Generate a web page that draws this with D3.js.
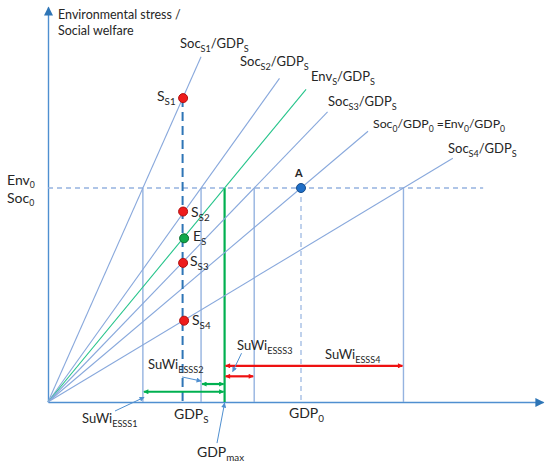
<!DOCTYPE html>
<html><head><meta charset="utf-8">
<script src="https://cdn.jsdelivr.net/npm/d3@7"></script>
<style>
body{margin:0;background:#fff}
text{font-family:Lato,"Open Sans",sans-serif;fill:#262626}
</style>
</head><body>
<svg id="c" width="550" height="466"></svg>
<script>
// ---------- data (abstract units: GDP0 = 10, Env0 = Soc0 = 10) ----------
const lineKeys   = ["SocS1","SocS2","EnvS","SocS3","Soc0","SocS4"];
const gdpAtEnv0  = [3.75, 6.05, 6.98, 8.15, 10, 14.05];   // GDP where each ratio line meets Env0/Soc0
const lineEndGdp = [6.05, 9.15, 10.2, 11.05, 12.65, 16.0];
const env0 = 10, gdp0 = 10, gdpS = 5.32, gdpMax = 6.98;
const pointKeys   = ["SS1","SS2","ES","SS3","SS4"];
const pointValues = [14.2, 8.9, 7.65, 6.5, 3.8];
const suwiKeys  = ["ESSS1","ESSS2","ESSS3","ESSS4"];
const suwiFrom  = [3.75, 6.05, 6.98, 6.98];
const suwiTo    = [6.98, 6.98, 8.15, 14.05];
const suwiLevel = [0.48, 0.84, 1.2, 1.69];

// ---------- scales ----------
const x = d3.scaleLinear().domain([0, 10]).range([48, 301]);
const y = d3.scaleLinear().domain([0, 10]).range([402, 188]);
const svg = d3.select("#c");

const C = {axis:"#4f8fd0", line:"#88a8dc", vline:"#95b3e0", dash:"#2e75b6",
           green:"#00b050", greenLine:"#25c48a", red:"#ee1111", call:"#4f8fd0"};

// ---------- markers ----------
const defs = svg.append("defs");
function marker(id, color, w, h){
  defs.append("marker").attr("id", id).attr("viewBox","0 0 10 10")
    .attr("refX", 9).attr("refY", 5).attr("markerUnits","userSpaceOnUse")
    .attr("markerWidth", w).attr("markerHeight", h).attr("orient","auto-start-reverse")
    .append("path").attr("d","M0,0L10,5L0,10Z").attr("fill", color);
}
marker("axArrow", "#2e75b6", 11, 9);
marker("gArrow", C.green, 6, 5);
marker("rArrow", C.red, 6, 5);
marker("cArrow", C.call, 6, 5);

// ---------- axes ----------
const xAxisScale = x.copy().domain([0, x.invert(543)]).range([48, 543]);
const yAxisScale = y.copy().domain([0, y.invert(7)]).range([402, 7]);
const gx = svg.append("g").attr("transform", `translate(0,${y(0)})`)
  .call(d3.axisBottom(xAxisScale).tickValues([]).tickSizeOuter(0));
const gy = svg.append("g").attr("transform", `translate(${x(0)},0)`)
  .call(d3.axisLeft(yAxisScale).tickValues([]).tickSizeOuter(0));
[gx, gy].forEach(g => g.select(".domain").attr("stroke", C.axis).attr("stroke-width", 1.4)
  .attr("marker-end","url(#axArrow)"));

// ---------- Env0 dashed level ----------
svg.append("line").attr("x1", x(0)).attr("x2", x(17.2)).attr("y1", y(env0)).attr("y2", y(env0))
  .attr("stroke", C.vline).attr("stroke-width", 1.3).attr("stroke-dasharray","5,4");

// ---------- vertical lines at Env0 crossings ----------
lineKeys.forEach((k, i) => {
  if (k === "Soc0") return;
  svg.append("line").attr("x1", x(gdpAtEnv0[i])).attr("x2", x(gdpAtEnv0[i]))
    .attr("y1", y(env0)).attr("y2", y(0))
    .attr("stroke", k === "EnvS" ? C.green : C.vline)
    .attr("stroke-width", k === "EnvS" ? 2.2 : 1.4);
});
// GDP0 dashed
svg.append("line").attr("x1", x(gdp0)).attr("x2", x(gdp0)).attr("y1", y(env0)).attr("y2", y(0))
  .attr("stroke", C.vline).attr("stroke-width", 1.2).attr("stroke-dasharray","5,4");

// ---------- ratio lines from origin ----------
const lineGen = d3.line().x(d => x(d[0])).y(d => y(d[1]));
lineKeys.forEach((k, i) => {
  const slope = env0 / gdpAtEnv0[i];
  svg.append("path").datum([[0, 0], [lineEndGdp[i], lineEndGdp[i] * slope]])
    .attr("d", lineGen).attr("fill","none")
    .attr("stroke", k === "EnvS" ? C.greenLine : C.line).attr("stroke-width", 1.1);
});

// ---------- GDP_S dashed ----------
svg.append("line").attr("x1", x(gdpS)).attr("x2", x(gdpS)).attr("y1", y(pointValues[0])).attr("y2", y(0))
  .attr("stroke", C.dash).attr("stroke-width", 2).attr("stroke-dasharray","9,5");

// ---------- SuWi double arrows ----------
suwiKeys.forEach((k, i) => {
  const col = i < 2 ? "g" : "r";
  svg.append("line").attr("x1", x(suwiFrom[i]) + 1).attr("x2", x(suwiTo[i]) - 1)
    .attr("y1", y(suwiLevel[i])).attr("y2", y(suwiLevel[i]))
    .attr("stroke", i < 2 ? C.green : C.red).attr("stroke-width", 2.2)
    .attr("marker-start", `url(#${col}Arrow)`).attr("marker-end", `url(#${col}Arrow)`);
});

// ---------- callout lines ----------
const callouts = [[[2.65,-0.42],[3.8,0.22]], [[5.3,1.17],[6.05,0.98]],
                  [[7.65,2.28],[7.3,1.42]], [[6.68,-1.92],[6.98,-0.05]]];
callouts.forEach(c => {
  svg.append("path").datum(c).attr("d", lineGen).attr("fill","none")
    .attr("stroke", C.call).attr("stroke-width", 1).attr("marker-end","url(#cArrow)");
});

// ---------- points ----------
const pointFill = {SS1:"#ee1c1c", SS2:"#ee1c1c", ES:"#10a84a", SS3:"#ee1c1c", SS4:"#ee1c1c"};
const pointStroke = {SS1:"#b01010", SS2:"#b01010", ES:"#0b6f30", SS3:"#b01010", SS4:"#b01010"};
pointKeys.forEach((k, i) => {
  svg.append("circle").attr("cx", x(gdpS) + (k==="ES"||k==="SS4" ? 1.5 : 0.5)).attr("cy", y(pointValues[i]))
    .attr("r", 4.5).attr("fill", pointFill[k]).attr("stroke", pointStroke[k]).attr("stroke-width", 1);
});
svg.append("circle").attr("cx", x(gdp0)).attr("cy", y(env0)).attr("r", 4.5)
  .attr("fill","#1f6fc8").attr("stroke","#174d8a").attr("stroke-width",1);

// ---------- text helper ----------
function rich(px, py, parts, size, opts = {}){
  const t = svg.append("text").attr("x", px).attr("y", py).attr("font-size", size);
  if (opts.bold) t.attr("font-weight", "bold");
  const r = opts.subRatio || 0.7;
  const off = size * (opts.subDy || 0.32);
  let sub = false;
  parts.forEach(p => {
    const isSub = p.startsWith("_");
    const s = isSub ? p.slice(1) : p;
    const ts = t.append("tspan").text(s);
    if (isSub && !sub){ ts.attr("dy", off).attr("font-size", size*r); sub = true; }
    else if (isSub){ ts.attr("font-size", size*r); }
    else if (sub){ ts.attr("dy", -off); sub = false; }
  });
  return t;
}

// axis title
svg.append("text").attr("x", 58).attr("y", 19).attr("font-size", 12.5).text("Environmental stress /");
svg.append("text").attr("x", 58).attr("y", 35).attr("font-size", 12.5).text("Social welfare");
rich(7, 185, ["Env","_0"], 14, {subDy:0.18, subRatio:0.62});
rich(7, 203, ["Soc","_0"], 14, {subDy:0.18, subRatio:0.62});

// line labels
rich(180, 48, ["Soc","_S1","/GDP","_S"], 13);
rich(240, 66, ["Soc","_S2","/GDP","_S"], 13);
rich(311, 81, ["Env","_S","/GDP","_S"], 13);
rich(328, 106, ["Soc","_S3","/GDP","_S"], 13);
rich(373, 128, ["Soc","_0","/GDP","_0"," =Env","_0","/GDP","_0"], 12.3);
rich(448, 153, ["Soc","_S4","/GDP","_S"], 13);

// point labels
rich(157, 101, ["S","_S1"], 14);
rich(191, 217, ["S","_S2"], 14);
rich(193, 241, ["E","_S"], 14);
rich(190, 266, ["S","_S3"], 14);
rich(192, 325, ["S","_S4"], 14);
rich(295, 177, ["A"], 11, {bold:true});

// axis value labels
rich(174, 419, ["GDP","_S"], 14);
rich(289, 418, ["GDP","_0"], 14);
rich(197, 457, ["GDP","_max"], 14);

// SuWi labels
rich(82, 423, ["SuWi","_ESSS1"], 13);
rich(148, 369, ["SuWi","_ESSS2"], 13);
rich(237, 350, ["SuWi","_ESSS3"], 13);
rich(325, 359, ["SuWi","_ESSS4"], 13);
</script>
</body></html>
